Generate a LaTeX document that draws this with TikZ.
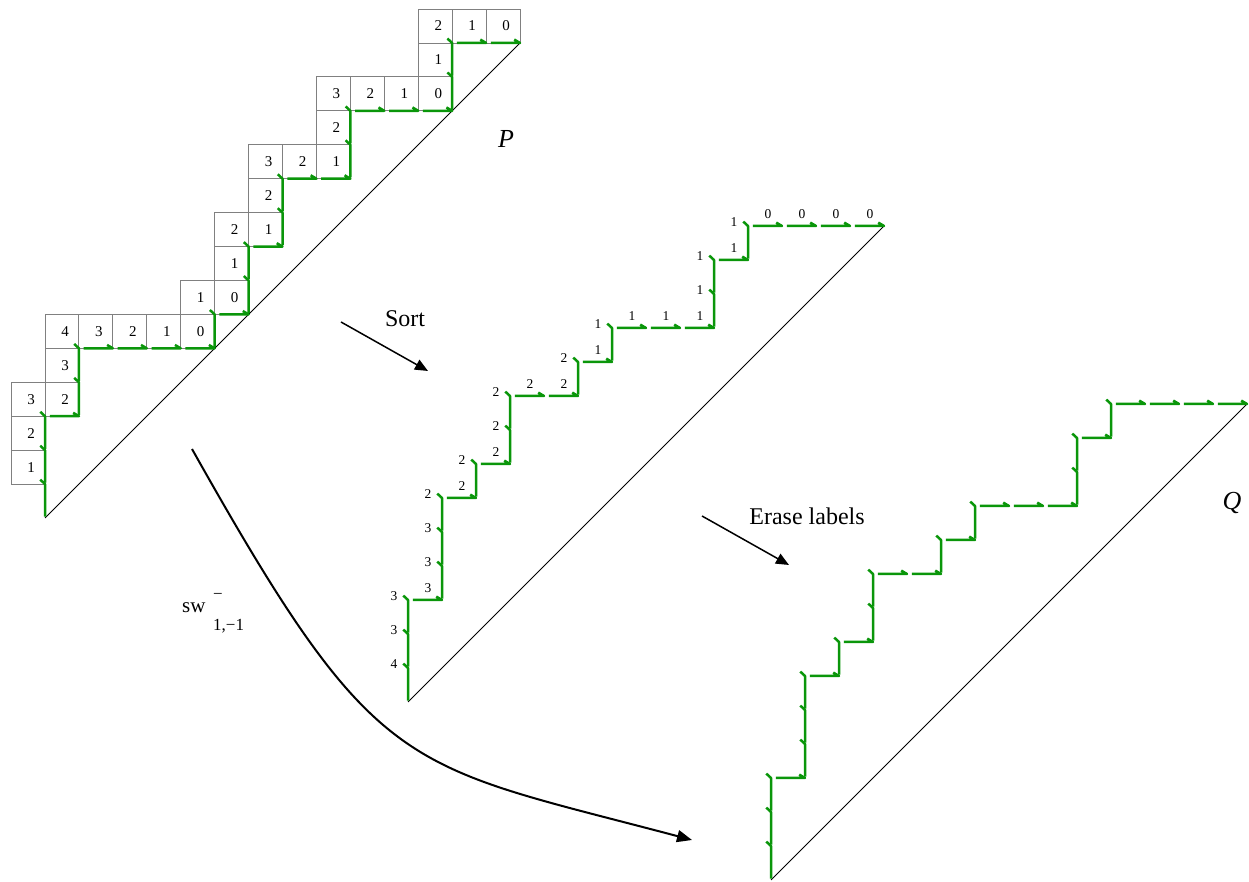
\documentclass[tikz,border=0pt]{standalone}
\usepackage{fontspec}
\setmainfont{Liberation Serif}
\usetikzlibrary{arrows.meta}
\definecolor{pathgreen}{RGB}{10,150,10}
\definecolor{boxgray}{RGB}{128,128,128}
\begin{document}
\begin{tikzpicture}[x=1pt,y=1pt,
  greenstep/.style={draw=pathgreen, line width=2.5pt, line join=round, line cap=butt},
  boxline/.style={draw=boxgray, line width=0.9pt},
  diag/.style={draw=black, line width=0.9pt},
  boxlabel/.style={font=\fontsize{15}{18}\selectfont, inner sep=0pt},
  steplabel/.style={font=\fontsize{13.5}{16}\selectfont, inner sep=0pt},
  bigtext/.style={font=\fontsize{24}{28}\selectfont, inner sep=0pt},
  pqtext/.style={font=\fontsize{26}{30}\selectfont\itshape, inner sep=0pt},
  arr/.style={draw=black, line width=1.5pt, -{Triangle[length=13pt,width=11pt]}},
  arrcurve/.style={draw=black, line width=2pt, -{Triangle[length=15pt,width=12pt]}}
]
\useasboundingbox (0,0) rectangle (1249,882);

% ---------------- P ----------------
\begin{scope}[shift={(45pt,364pt)}, x=33.93pt, y=33.93pt]
  % boxes of N steps: box at (x-1,y+1)
  \foreach \x/\y/\l in {0/0/1,0/1/2,0/2/3,1/3/3,1/4/4,5/5/1,6/6/1,6/7/2,7/8/2,7/9/3,9/10/2,9/11/3,12/12/1,12/13/2}{
    \draw[boxline] (\x-1,\y+1) rectangle ++(1,1);
    \node[boxlabel] (pbn\x-\y) at (\x-0.41,\y+1.5) {\l};
  }
  % boxes of E steps: box at (x,y)
  \foreach \x/\y/\l in {0/3/2,1/5/3,2/5/2,3/5/1,4/5/0,5/6/0,6/8/1,7/10/2,8/10/1,9/12/2,10/12/1,11/12/0,12/14/1,13/14/0}{
    \draw[boxline] (\x,\y) rectangle ++(1,1);
    \node[boxlabel] (pbe\x-\y) at (\x+0.59,\y+0.5) {\l};
  }
  \draw[diag] (0,0) -- (14,14);
  \foreach \x/\y in {0/0,0/1,0/2,1/3,1/4,5/5,6/6,6/7,7/8,7/9,9/10,9/11,12/12,12/13}{
    \draw[greenstep] (\x,\y+0.04) -- (\x,\y+1) -- ++(-0.14,0.13);
  }
  \foreach \x/\y in {0/3,1/5,2/5,3/5,4/5,5/6,6/8,7/10,8/10,9/12,10/12,11/12,12/14,13/14}{
    \draw[greenstep] (\x+0.14,\y) -- (\x+1,\y) -- ++(-0.17,0.1);
  }
\end{scope}
\node[pqtext, anchor=base] (Plabel) at (506,734) {P};

% ---------------- sorted path ----------------
\begin{scope}[shift={(408pt,180pt)}, x=34pt, y=34pt]
  \draw[diag] (0,0) -- (14,14);
  \foreach \x/\y/\l in {0/0/4,0/1/3,0/2/3,1/3/3,1/4/3,1/5/2,2/6/2,3/7/2,3/8/2,5/9/2,6/10/1,9/11/1,9/12/1,10/13/1}{
    \draw[greenstep] (\x,\y+0.04) -- (\x,\y+1) -- ++(-0.14,0.13);
    \node[steplabel] (sn\x-\y) at (\x-0.41,\y+1.11) {\l};
  }
  \foreach \x/\y/\l in {0/3/3,1/6/2,2/7/2,3/9/2,4/9/2,5/10/1,6/11/1,7/11/1,8/11/1,9/13/1,10/14/0,11/14/0,12/14/0,13/14/0}{
    \draw[greenstep] (\x+0.14,\y) -- (\x+1,\y) -- ++(-0.17,0.1);
    \node[steplabel] (se\x-\y) at (\x+0.59,\y+0.34) {\l};
  }
\end{scope}

% ---------------- Q ----------------
\begin{scope}[shift={(771pt,2pt)}, x=34pt, y=34pt]
  \draw[diag] (0,0) -- (14,14);
  \foreach \x/\y in {0/0,0/1,0/2,1/3,1/4,1/5,2/6,3/7,3/8,5/9,6/10,9/11,9/12,10/13}{
    \draw[greenstep] (\x,\y+0.04) -- (\x,\y+1) -- ++(-0.14,0.13);
  }
  \foreach \x/\y in {0/3,1/6,2/7,3/9,4/9,5/10,6/11,7/11,8/11,9/13,10/14,11/14,12/14,13/14}{
    \draw[greenstep] (\x+0.14,\y) -- (\x+1,\y) -- ++(-0.17,0.1);
  }
\end{scope}
\node[pqtext, anchor=base] (Qlabel) at (1232,372) {Q};

% ---------------- arrows and captions ----------------
\node[bigtext, anchor=base] (sorttext) at (405,555) {Sort};
\coordinate (sortA) at (341,560);
\coordinate (sortB) at (428,511);
\draw[arr] (sortA) -- (sortB);

\node[bigtext, anchor=base] (erasetext) at (807,357) {Erase labels};
\coordinate (eraseA) at (702,366);
\coordinate (eraseB) at (789,317);
\draw[arr] (eraseA) -- (eraseB);

\coordinate (swA) at (192,433);
\coordinate (swB) at (692,42);
\draw[arrcurve] (swA) .. controls (378,102) and (402,119) .. (swB);

\node[font=\fontsize{21}{24}\selectfont, inner sep=0pt, anchor=base west] (swtext) at (182,269) {sw};
\node[font=\fontsize{17}{20}\selectfont, inner sep=0pt] (swsup) at (218,286) {−};
\node[font=\fontsize{17}{20}\selectfont, inner sep=0pt, anchor=base west] (swsub) at (213,251) {1,−1};
\end{tikzpicture}
\end{document}
